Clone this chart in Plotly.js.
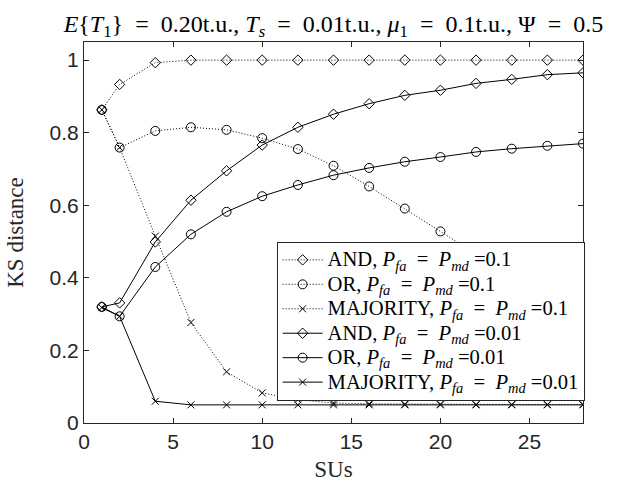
<!DOCTYPE html>
<html>
<head>
<meta charset="utf-8">
<script src="https://cdn.plot.ly/plotly-3.0.1.min.js"></script>
<style>html,body{margin:0;padding:0;background:#fff;}#chart{width:637px;height:484px;}</style>
</head>
<body>
<div id="chart"></div>
<script>
const SUs = [1, 2, 4, 6, 8, 10, 12, 14, 16, 18, 20, 22, 24, 26, 28];
const andP1  = [0.863, 0.933, 0.993, 1.0, 1.0, 1.0, 1.0, 1.0, 1.0, 1.0, 1.0, 1.0, 1.0, 1.0, 1.0];
const orP1   = [0.863, 0.759, 0.805, 0.815, 0.808, 0.785, 0.755, 0.709, 0.652, 0.591, 0.528, 0.465, 0.405, 0.350, 0.300];
const majP1  = [0.863, 0.759, 0.515, 0.277, 0.141, 0.083, 0.064, 0.055, 0.053, 0.052, 0.052, 0.051, 0.051, 0.051, 0.051];
const andP01 = [0.320, 0.331, 0.499, 0.614, 0.695, 0.766, 0.815, 0.851, 0.880, 0.903, 0.917, 0.936, 0.947, 0.960, 0.965];
const orP01  = [0.320, 0.294, 0.430, 0.520, 0.582, 0.625, 0.656, 0.683, 0.703, 0.720, 0.733, 0.747, 0.756, 0.764, 0.770];
const majP01 = [0.318, 0.294, 0.060, 0.050, 0.050, 0.050, 0.050, 0.050, 0.050, 0.050, 0.050, 0.050, 0.050, 0.050, 0.050];
const xTicks = [0, 5, 10, 15, 20, 25];
const yTicks = [0, 0.2, 0.4, 0.6, 0.8, 1];
const yTickText = ['0', '0.2', '0.4', '0.6', '0.8', '1'];
const P = '<i>P</i><sub><i>fa</i></sub>&nbsp;&nbsp;=&nbsp;&nbsp;<i>P</i><sub><i>md</i></sub>&nbsp;=';
const labels = [
  'AND, ' + P + '0.1', 'OR, ' + P + '0.1', 'MAJORITY, ' + P + '0.1',
  'AND, ' + P + '0.01', 'OR, ' + P + '0.01', 'MAJORITY, ' + P + '0.01'
];
const series = [andP1, orP1, majP1, andP01, orP01, majP01];
const symbols = ['diamond-open', 'circle-open', 'x-thin-open', 'diamond-open', 'circle-open', 'x-thin-open'];
const sizes = [8, 9, 7, 8, 9, 7];
const dashes = ['1px,2px', '1px,2px', '1px,2px', 'solid', 'solid', 'solid'];

const traces = series.map((y, i) => ({
  x: SUs, y: y, type: 'scatter', mode: 'lines+markers',
  name: '<span style="font-size:20.6px">' + labels[i] + '</span>',
  line: {color: '#000', width: 1, dash: dashes[i]},
  marker: {symbol: symbols[i], size: sizes[i], color: '#000', line: {color: '#000', width: 1}}
}));

const serif = 'Liberation Serif, Times New Roman, serif';
const sans = 'Liberation Sans, Arial, sans-serif';
const axisCommon = {
  showline: true, linecolor: '#262626', linewidth: 1, mirror: 'ticks',
  ticks: 'inside', ticklen: 5, tickcolor: '#262626', showgrid: false, zeroline: false,
  tickfont: {family: sans, size: 21, color: '#262626'}
};
const layout = {
  width: 637, height: 484,
  margin: {l: 84, r: 54, t: 42, b: 61},
  paper_bgcolor: '#fff', plot_bgcolor: '#fff',
  title: {
    text: '<i>E</i>{<i>T</i><sub>1</sub>}&nbsp;&nbsp;=&nbsp;&nbsp;0.20t.u.,&nbsp;<i>T</i><sub><i>s</i></sub>&nbsp;&nbsp;=&nbsp;&nbsp;0.01t.u.,&nbsp;<i>μ</i><sub>1</sub>&nbsp;&nbsp;=&nbsp;&nbsp;0.1t.u.,&nbsp;Ψ&nbsp;&nbsp;=&nbsp;&nbsp;0.5',
    font: {family: serif, size: 24, color: '#000'},
    x: 0.5, xref: 'paper', xanchor: 'center', y: 0.952, yref: 'container', yanchor: 'middle'
  },
  xaxis: Object.assign({}, axisCommon, {
    range: [0, 28], tickvals: xTicks,
    title: {text: 'SUs', font: {family: serif, size: 23, color: '#262626'}, standoff: 8}
  }),
  yaxis: Object.assign({}, axisCommon, {
    range: [0, 1.05], tickvals: yTicks, ticktext: yTickText,
    title: {text: 'KS distance', font: {family: serif, size: 23, color: '#262626'}, standoff: 19}
  }),
  showlegend: true,
  legend: {
    x: 0.386, y: 0.476, xanchor: 'left', yanchor: 'top',
    bgcolor: '#fff', bordercolor: '#262626', borderwidth: 1,
    font: {family: serif, size: 16.5, color: '#000'},
    itemwidth: 40, tracegroupgap: 0
  }
};
Plotly.newPlot('chart', traces, layout, {staticPlot: true, displayModeBar: false});
</script>
</body>
</html>
